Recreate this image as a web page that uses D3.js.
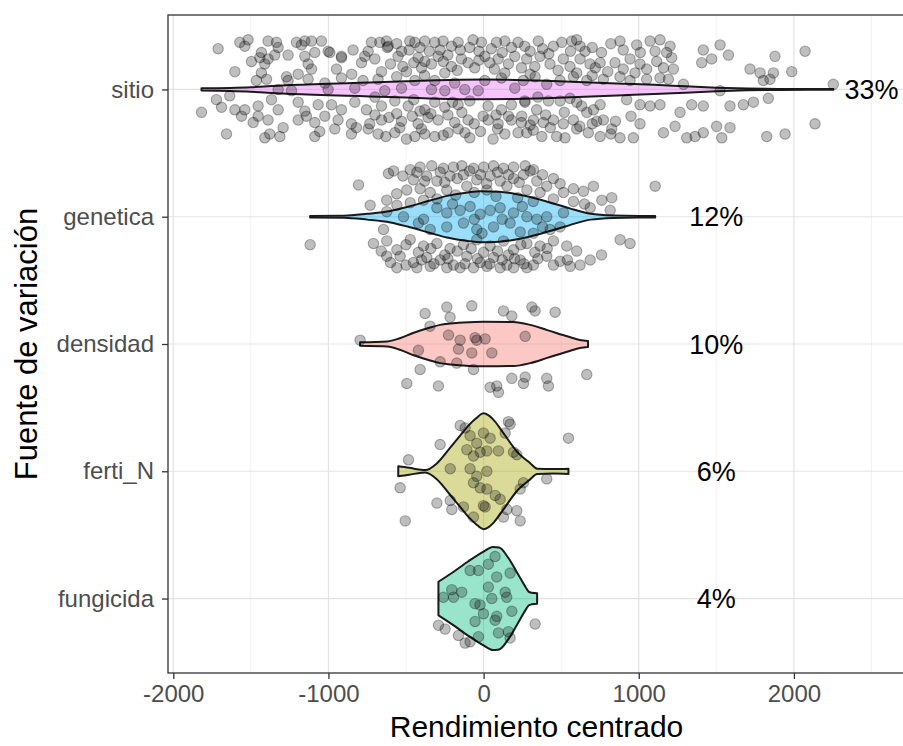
<!DOCTYPE html>
<html>
<head>
<meta charset="utf-8">
<script src="https://cdn.jsdelivr.net/npm/d3@7"></script>
<style>
  body { margin: 0; background: #ffffff; }
  svg { display: block; }
</style>
</head>
<body>
<svg id="chart" width="903" height="746"></svg>
<script>
// Sources of variation, top to bottom
const categories = ["sitio", "genetica", "densidad", "ferti_N", "fungicida"];
// Share of total variance explained by each source
const shareLabels = ["33%", "12%", "10%", "6%", "4%"];
const shareLabelAt = [2500, 1500, 1500, 1500, 1500];
// ggplot default hue for the alphabetical factor levels
const fillColors = ["#E76BF3", "#00B0F6", "#F8766D", "#A3A500", "#00BF7D"];
const xTicks = [-2000, -1000, 0, 1000, 2000];
const xMinorTicks = [-1500, -500, 500, 1500, 2500];

// Kernel density profiles: [centred yield, relative density]
const sitioDensity = [[-1818,0.02],[-1500,0.04],[-1300,0.07],[-1000,0.10],[-800,0.115],[-500,0.14],[-300,0.16],[0,0.17],[200,0.165],[400,0.15],[650,0.125],[900,0.10],[1100,0.08],[1300,0.055],[1500,0.03],[1700,0.015],[1900,0.009],[2100,0.006],[2254,0.006]];
const geneticaDensity = [[-1118,0.012],[-900,0.016],[-750,0.05],[-600,0.10],[-490,0.17],[-345,0.28],[-235,0.36],[-100,0.42],[-20,0.44],[100,0.43],[190,0.40],[300,0.34],[410,0.26],[500,0.19],[560,0.14],[690,0.05],[835,0.02],[1000,0.012],[1106,0.012]];
const densidadDensity = [[-796,0.03],[-620,0.045],[-540,0.10],[-455,0.19],[-350,0.28],[-280,0.33],[-130,0.37],[0,0.385],[190,0.38],[300,0.33],[410,0.24],[555,0.12],[620,0.07],[673,0.05]];
const fertiDensity = [[-550,0.085],[-480,0.06],[-400,0.025],[-375,0.02],[-300,0.14],[-215,0.41],[-150,0.62],[-90,0.81],[-50,0.91],[0,1.0],[30,0.97],[60,0.9],[125,0.67],[215,0.34],[300,0.14],[345,0.045],[450,0.04],[547,0.045]];
const fungicidaDensity = [[-291,0.29],[-200,0.45],[-100,0.64],[0,0.81],[60,0.89],[100,0.88],[160,0.70],[220,0.43],[270,0.20],[290,0.12],[310,0.10],[345,0.09]];

// Observations: [centred yield, vertical jitter as a fraction of the row step]
const sitioPoints = [
[-1711,-0.32],[-1571,-0.37],[-1518,-0.39],[-1539,-0.34],[-1432,-0.29],[-1389,-0.38],[-1335,-0.37],[-1324,-0.33],[-1206,-0.37],[-1174,-0.35],[-1152,-0.38],[-1109,-0.38],[-1045,-0.38],[-1002,-0.30],[-916,-0.26],[-841,-0.31],[-744,-0.30],[-723,-0.37],[-669,-0.37],[-626,-0.38],[-615,-0.34],[-529,-0.30],[-476,-0.38],[-443,-0.37],[-379,-0.38],[-315,-0.37],[-261,-0.38],[-207,-0.34],[-164,-0.37],[-68,-0.39],[-14,-0.37],[83,-0.37],[137,-0.38],[222,-0.37],[265,-0.34],
[-1603,-0.14],[-1496,-0.22],[-1442,-0.25],[-1410,-0.20],[-1432,-0.13],[-1389,-0.24],[-1346,-0.27],[-1260,-0.27],[-1270,-0.10],[-1195,-0.12],[-1152,-0.26],[-1131,-0.20],[-1109,-0.16],[-1088,-0.29],[-991,-0.29],[-948,-0.16],[-916,-0.25],[-787,-0.21],[-766,-0.26],[-701,-0.24],[-658,-0.14],[-551,-0.26],[-497,-0.14],[-422,-0.25],[-379,-0.22],[-336,-0.20],[-293,-0.26],[-250,-0.13],[-207,-0.18],[-143,-0.24],[-100,-0.21],[-57,-0.17],[8,-0.26],[40,-0.21],[94,-0.24],[137,-0.13],[201,-0.26],[244,-0.17],
[-1464,-0.07],[-1399,-0.08],[-1260,-0.07],[-1131,-0.08],[-1023,-0.05],[-916,-0.09],[-777,-0.07],[-680,-0.08],[-443,-0.07],[-315,-0.07],[-186,-0.05],[8,-0.07],[115,-0.09],
[-1324,0],[-1238,0.01],[-1002,0],[-830,-0.01],[-637,0.01],[-529,-0.01],[-336,0],[-250,0.01],[-121,0],[-35,0.01],[201,-0.01],
[-1722,0.08],[-1636,0.05],[-1689,0.14],[-1603,0.16],[-1539,0.16],[-1453,0.13],[-1367,0.08],[-1324,0.16],[-1195,0.10],[-1152,0.17],[-1066,0.12],[-980,0.12],[-916,0.16],[-830,0.10],[-755,0.16],[-658,0.13],[-572,0.09],[-486,0.13],[-379,0.16],[-315,0.10],[-250,0.14],[-164,0.12],[-89,0.09],[29,0.13],[115,0.16],[179,0.12],[265,0.09],
[-1818,0.18],[-1560,0.21],[-1485,0.26],[-1453,0.21],[-1389,0.24],[-1292,0.30],[-1195,0.24],[-1142,0.21],[-1088,0.26],[-1023,0.21],[-938,0.24],[-852,0.27],[-734,0.27],[-658,0.24],[-529,0.25],[-422,0.27],[-358,0.22],[-293,0.24],[-186,0.26],[-100,0.24],[-3,0.21],[94,0.27],[179,0.24],[244,0.26],
[-1657,0.35],[-1410,0.38],[-1378,0.35],[-1313,0.37],[-1088,0.37],[-1056,0.33],[-959,0.31],[-852,0.35],[-744,0.31],[-680,0.35],[-572,0.34],[-497,0.39],[-443,0.37],[-379,0.35],[-315,0.37],[-229,0.34],[-164,0.31],[-89,0.38],[61,0.39],[137,0.35],[222,0.34],
[353,-0.38],[450,-0.34],[504,-0.37],[568,-0.38],[622,-0.34],[654,-0.30],[600,-0.39],[879,-0.38],[987,-0.35],[1073,-0.38],[1137,-0.39],[1202,-0.34],[1105,-0.30],[1180,-0.29],[1416,-0.31],[1524,-0.35],[1578,-0.27],[1878,-0.26],[2072,-0.30],
[278,-0.24],[364,-0.26],[428,-0.20],[514,-0.24],[557,-0.18],[622,-0.24],[686,-0.20],[751,-0.21],[847,-0.21],[944,-0.24],[1008,-0.20],[976,-0.13],[1051,-0.16],[1116,-0.22],[1159,-0.17],[1212,-0.25],[1223,-0.16],[1406,-0.21],[1470,-0.24],[1717,-0.16],[1782,-0.13],[1868,-0.13],[1986,-0.14],
[256,-0.07],[332,-0.10],[407,-0.04],[493,-0.07],[579,-0.10],[665,-0.07],[772,-0.08],[879,-0.10],[944,-0.07],[1051,-0.08],[1137,-0.09],[1191,-0.08],[1288,-0.04],[1524,0.01],[1803,-0.07],[1846,-0.08],[2254,-0.04],
[267,0.10],[342,0.16],[418,0.09],[493,0.09],[557,0.07],[632,0.13],[708,0.16],[751,0.12],[922,0.08],[1008,0.12],[1073,0.13],[1137,0.12],[1266,0.18],[1341,0.12],[1416,0.13],[1588,0.13],[1674,0.12],[1739,0.10],[1835,0.07],
[246,0.21],[321,0.24],[385,0.26],[450,0.24],[514,0.27],[579,0.24],[665,0.18],[729,0.25],[772,0.24],[826,0.31],[879,0.38],[965,0.38],[1008,0.27],[1159,0.34],[1234,0.29],[1309,0.38],[1363,0.37],[1416,0.34],[1502,0.29],[1535,0.38],[1588,0.30],[1825,0.37],[1943,0.35],[2136,0.27],[278,0.34],[375,0.37],[471,0.37],[525,0.38],[675,0.34],[751,0.37],
[-620,-0.33],[-560,-0.36],[-480,-0.31],[-410,-0.33],[-350,-0.30],[-280,-0.31],[-230,-0.27],[-150,-0.31],[-90,-0.33],[-30,-0.30],[50,-0.32],[120,-0.29],[180,-0.33],[300,-0.30],[380,-0.32],[420,-0.28],[560,-0.30],[700,-0.33],[760,-0.29],[820,-0.36],[900,-0.31],[1010,-0.29],
[-600,-0.20],[-520,-0.18],[-450,-0.21],[-400,-0.17],[-260,-0.22],[-170,-0.15],[-30,-0.23],[70,-0.16],[160,-0.20],[330,-0.18],[480,-0.15],[600,-0.13],[720,-0.17],[800,-0.14],[900,-0.16],
[-700,0.20],[-610,0.22],[-560,0.19],[-460,0.21],[-410,0.17],[-340,0.19],[-230,0.20],[-140,0.18],[-60,0.27],[30,0.24],[80,0.20],[160,0.21],[300,0.28],[400,0.20],[520,0.18],[620,0.29],[700,0.27],[850,0.25],[950,0.21],
[-820,0.30],[-630,0.37],[-540,0.30],[-400,0.31],[-260,0.36],[-120,0.34],[-20,0.33],[90,0.31],[320,0.32],[430,0.30],[600,0.31],[820,0.35],
[-700,0.06],[-450,0.08],[-200,0.10],[350,0.06],[600,0.10],[-850,-0.12],[-560,-0.10],[-380,-0.11],[300,-0.12],[700,-0.11]
];
const geneticaPoints = [
[-613,-0.34],[-806,-0.25],[-473,-0.37],[-409,-0.39],[-334,-0.40],[-259,-0.38],[-194,-0.39],[-140,-0.40],[-65,-0.38],[1,-0.39],[64,-0.40],[128,-0.38],[193,-0.39],[268,-0.40],[321,-0.37],
[-452,-0.29],[-366,-0.32],[-301,-0.28],[-216,-0.32],[-130,-0.33],[-44,-0.29],[42,-0.32],[107,-0.28],[193,-0.30],[257,-0.33],[343,-0.28],[407,-0.24],[493,-0.26],[579,-0.22],[644,-0.20],[708,-0.24],[1106,-0.24],
[-495,-0.21],[-409,-0.22],[-344,-0.19],[-237,-0.21],[-108,-0.24],[21,-0.21],[150,-0.24],[279,-0.21],[364,-0.19],[515,-0.19],[579,-0.12],[762,-0.13],[826,-0.15],[-731,-0.09],[-624,-0.13],[-559,-0.09],[-473,-0.11],[-387,-0.13],
[-624,-0.04],[-516,0],[-387,0.02],[-301,-0.07],[-237,-0.03],[-151,-0.05],[-87,-0.08],[-22,-0.02],[42,-0.05],[107,-0.07],[193,-0.03],[279,0],[343,0.02],[407,0],[515,-0.03],[687,-0.07],[816,-0.05],[-344,0.10],[-237,0.08],[-130,0.05],[-44,0.10],[64,0.08],[171,0.05],[236,0.12],[321,0.13],[429,0.10],[493,0.08],[-645,0.10],
[-1118,0.22],[-710,0.21],[-624,0.19],[-559,0.26],[-473,0.18],[-387,0.23],[-301,0.21],[-216,0.25],[-130,0.22],[-44,0.18],[42,0.23],[128,0.19],[193,0.26],[279,0.21],[364,0.23],[450,0.19],[536,0.23],[880,0.18],[944,0.21],
[-624,0.31],[-538,0.31],[-452,0.36],[-366,0.32],[-280,0.34],[-194,0.38],[-108,0.31],[-22,0.36],[64,0.32],[150,0.38],[236,0.34],[321,0.38],[407,0.31],[493,0.35],[687,0.34],
[-559,0.40],[-430,0.40],[-344,0.39],[-237,0.40],[-151,0.40],[-65,0.40],[21,0.39],[107,0.40],[193,0.40],[279,0.40],[558,0.39],[622,0.38],
[-580,-0.36],[-520,-0.32],[-430,-0.35],[-380,-0.28],[-280,-0.35],[-250,-0.27],[-170,-0.30],[-90,-0.36],[-20,-0.33],[20,-0.26],[90,-0.35],[160,-0.33],[230,-0.27],[300,-0.36],[380,-0.33],[450,-0.30],
[-560,-0.18],[-300,-0.14],[-180,-0.17],[-60,-0.19],[80,-0.16],[220,-0.15],[320,-0.12],[450,-0.14],[650,-0.10],
[-420,0.05],[-200,-0.10],[-60,0.02],[120,0.02],[250,-0.08],[380,0.08],[-10,0.13],
[-660,0.27],[-500,0.22],[-420,0.28],[-340,0.25],[-250,0.30],[-170,0.27],[-80,0.25],[0,0.28],[90,0.27],[160,0.30],[240,0.22],[330,0.28],[410,0.25],[600,0.27],[760,0.30],
[-600,0.36],[-500,0.38],[-400,0.34],[-320,0.37],[-230,0.33],[-120,0.37],[-40,0.33],[40,0.37],[120,0.34],[200,0.33],[260,0.37],[350,0.33],[450,0.38],[540,0.34]
];
const densidadPoints = [
[-796,-0.03],[-377,-0.24],[-237,-0.29],[-216,-0.21],[-345,-0.14],[-76,-0.30],[128,-0.26],[182,-0.22],[311,-0.29],[332,-0.26],[461,-0.25],[-226,-0.07],[-151,-0.03],[-162,0.04],[-55,-0.05],[-44,-0.03],[10,-0.04],[-76,0.07],[53,0.07],[268,-0.06],[-420,0.05],[-409,0.20],[-280,0.14],[-173,0.15],[-65,0.20],[-495,0.31],[-291,0.33],[42,0.34],[85,0.33],[96,0.38],[182,0.27],[268,0.26],[257,0.31],[407,0.27],[418,0.33],[665,0.24]
];
const fertiPoints = [
[-151,-0.36],[-119,-0.34],[160,-0.39],[171,-0.37],[139,-0.30],[547,-0.26],[-280,-0.21],[-87,-0.28],[-44,-0.22],[-1,-0.30],[42,-0.26],[96,-0.16],[193,-0.15],[214,-0.13],[-108,-0.17],[-65,-0.12],[-22,-0.15],[21,-0.16],[-215,-0.02],[-87,-0.02],[-44,0.04],[21,0],[-484,-0.09],[-538,0.13],[407,0.06],[-65,0.09],[-22,0.13],[21,0.14],[75,0.19],[107,0.22],[257,0.09],[236,0.14],[-301,0.25],[-215,0.23],[-205,0.30],[-130,0.28],[-1,0.27],[10,0.28],[-65,0.36],[150,0.30],[214,0.31],[128,0.36],[236,0.39],[-505,0.39]
];
const fungicidaPoints = [
[74,-0.33],[31,-0.27],[-87,-0.22],[-33,-0.22],[171,-0.20],[31,-0.09],[85,-0.17],[-205,-0.07],[-141,-0.05],[-259,-0.01],[-194,-0.01],[139,-0.05],[149,-0.01],[53,0],[-55,0.04],[-23,0.05],[-1,0.12],[182,0.10],[85,0.14],[74,0.17],[-55,0.18],[96,0.27],[160,0.26],[-33,0.30],[-291,0.21],[-248,0.24],[-162,0.29],[-119,0.35],[332,0.20],[171,0.31],[-87,0.34]
];

const densities = [sitioDensity, geneticaDensity, densidadDensity, fertiDensity, fungicidaDensity];
const observations = [sitioPoints, geneticaPoints, densidadPoints, fertiPoints, fungicidaPoints];

const panel = { left: 168, right: 905, top: 15, bottom: 673 };
const FONT = "Liberation Sans, Arial, Helvetica, sans-serif";

const svg = d3.select("#chart");
const x = d3.scaleLinear().domain([-2034, 2716]).range([panel.left, panel.right]);
const y = d3.scalePoint().domain(categories).range([panel.top, panel.bottom]).padding(0.585);
const step = y.step();
const halfWidth = d3.scaleLinear().domain([0, 1]).range([0, 0.455 * step]);

svg.append("defs").append("clipPath").attr("id", "panel-clip")
  .append("rect")
  .attr("x", panel.left).attr("y", panel.top)
  .attr("width", panel.right - panel.left).attr("height", panel.bottom - panel.top);

// Grid lines
const grid = svg.append("g");
grid.selectAll("line.minor").data(xMinorTicks).join("line")
  .attr("x1", d => x(d)).attr("x2", d => x(d))
  .attr("y1", panel.top).attr("y2", panel.bottom)
  .attr("stroke", "#efefef").attr("stroke-width", 0.8);
grid.selectAll("line.major").data(xTicks).join("line")
  .attr("x1", d => x(d)).attr("x2", d => x(d))
  .attr("y1", panel.top).attr("y2", panel.bottom)
  .attr("stroke", "#e3e3e3").attr("stroke-width", 1.2);
grid.selectAll("line.row").data(categories).join("line")
  .attr("x1", panel.left).attr("x2", panel.right)
  .attr("y1", d => y(d)).attr("y2", d => y(d))
  .attr("stroke", "#e3e3e3").attr("stroke-width", 1.2);

const plot = svg.append("g").attr("clip-path", "url(#panel-clip)");

// Violins
const violin = (cy) => d3.area()
  .x(d => x(d[0]))
  .y0(d => cy - halfWidth(d[1]))
  .y1(d => cy + halfWidth(d[1]))
  .curve(d3.curveMonotoneX);

categories.forEach((cat, i) => {
  plot.append("path")
    .datum(densities[i])
    .attr("d", violin(y(cat)))
    .attr("fill", fillColors[i])
    .attr("fill-opacity", 0.4)
    .attr("stroke", "#1a1a1a")
    .attr("stroke-width", 2)
    .attr("stroke-linejoin", "round");
});

// Jittered observations
categories.forEach((cat, i) => {
  plot.append("g").selectAll("circle").data(observations[i]).join("circle")
    .attr("cx", d => x(d[0]))
    .attr("cy", d => y(cat) + d[1] * step)
    .attr("r", 5.2)
    .attr("fill", "rgba(0,0,0,0.25)")
    .attr("stroke", "rgba(0,0,0,0.3)")
    .attr("stroke-width", 1.1);
});

// Variance share labels
plot.selectAll("text.share").data(categories).join("text")
  .attr("x", (d, i) => x(shareLabelAt[i]))
  .attr("y", d => y(d))
  .attr("dy", "0.36em")
  .attr("text-anchor", "middle")
  .attr("font-family", FONT)
  .attr("font-size", 27)
  .attr("fill", "#000")
  .text((d, i) => shareLabels[i]);

// Panel border
svg.append("rect")
  .attr("x", panel.left).attr("y", panel.top)
  .attr("width", panel.right - panel.left).attr("height", panel.bottom - panel.top)
  .attr("fill", "none").attr("stroke", "#333333").attr("stroke-width", 1.3);

// Axes
const xAxis = svg.append("g")
  .attr("transform", `translate(0,${panel.bottom})`)
  .call(d3.axisBottom(x).tickValues(xTicks).tickSize(6).tickPadding(6).tickFormat(d => String(d)));
const yAxis = svg.append("g")
  .attr("transform", `translate(${panel.left},0)`)
  .call(d3.axisLeft(y).tickSize(6).tickPadding(8));

[xAxis, yAxis].forEach(ax => {
  ax.select(".domain").remove();
  ax.selectAll(".tick line").attr("stroke", "#333333").attr("stroke-width", 1.3);
  ax.selectAll(".tick text")
    .attr("font-family", FONT)
    .attr("font-size", 24)
    .attr("fill", "#4d4d4d");
});

// Axis titles
svg.append("text")
  .attr("x", (panel.left + panel.right) / 2)
  .attr("y", 737)
  .attr("text-anchor", "middle")
  .attr("font-family", FONT)
  .attr("font-size", 30)
  .attr("fill", "#000")
  .text("Rendimiento centrado");

svg.append("text")
  .attr("transform", `translate(37,${(panel.top + panel.bottom) / 2}) rotate(-90)`)
  .attr("text-anchor", "middle")
  .attr("font-family", FONT)
  .attr("font-size", 31)
  .attr("fill", "#000")
  .text("Fuente de variación");
</script>
</body>
</html>
